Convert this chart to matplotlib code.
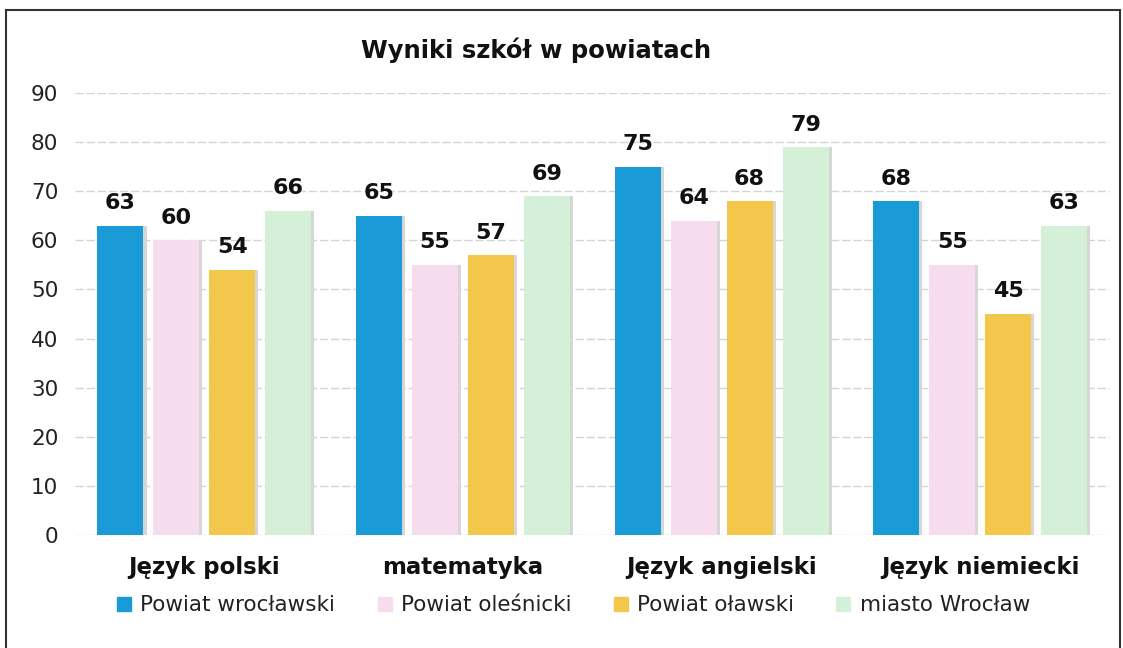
import matplotlib
matplotlib.use("Agg")
import matplotlib.pyplot as plt
import numpy as np
from matplotlib.patches import Rectangle
from matplotlib.lines import Line2D

categories = ["Język polski", "matematyka", "Język angielski", "Język niemiecki"]
series_names = ["Powiat wrocławski", "Powiat oleśnicki", "Powiat oławski", "miasto Wrocław"]
powiat_wroclawski = [63, 65, 75, 68]
powiat_olesnicki = [60, 55, 64, 55]
powiat_olawski = [54, 57, 68, 45]
miasto_wroclaw = [66, 69, 79, 63]
yticks = [0, 10, 20, 30, 40, 50, 60, 70, 80, 90]
title = "Wyniki szkół w powiatach"

series = [powiat_wroclawski, powiat_olesnicki, powiat_olawski, miasto_wroclaw]
colors = ["#1b9ad8", "#f6dcee", "#f2c74c", "#d5f0d8"]

plt.rcParams['font.family'] = ['DejaVu Sans']

fig = plt.figure(figsize=(11.23, 6.48), dpi=100)
ax = fig.add_axes([0.0668, 0.1744, 0.9212, 0.6821])

x = np.arange(len(categories))
step = 0.2164
width = 0.178
for i, (vals, c) in enumerate(zip(series, colors)):
    pos = x + (i - 1.5) * step
    # soft shadow
    ax.bar(pos + 0.006, vals, width=width + 0.012, color="#d6d6d6", zorder=2)
    ax.bar(pos, vals, width=width, color=c, zorder=3, label=series_names[i])
    for p, v in zip(pos, vals):
        ax.annotate(str(v), (p, v), xytext=(0, 9), textcoords="offset points",
                    ha="center", va="bottom", fontsize=16, fontweight="bold", color="#111111")

ax.set_xlim(-0.5, 3.5)
ax.set_ylim(0, 90)
ax.set_yticks(yticks)
ax.set_xticks(x)
ax.set_xticklabels(categories, fontsize=16.5, fontweight="bold", color="#111111")
ax.tick_params(axis="x", length=0, pad=15)
ax.tick_params(axis="y", length=0, pad=12, labelsize=15.5, labelcolor="#222222")
for s in ax.spines.values():
    s.set_visible(False)
ax.yaxis.grid(True, color="#d4d4d4", linestyle=(0, (6, 2)), linewidth=1, zorder=0)
ax.set_axisbelow(True)

fig.text(0.477, 0.922, title, ha="center", va="center", fontsize=17.5, fontweight="bold", color="#111111")

handles = [Line2D([], [], marker="s", linestyle="none", markersize=10, color=c) for c in colors]
fig.legend(handles, series_names, loc="center", bbox_to_anchor=(0.51, 0.066), ncol=4,
           frameon=False, fontsize=15.5, handlelength=0.8, handletextpad=0.35, columnspacing=1.9,
           labelcolor="#222222")

fig.patches.append(Rectangle((0.0055, -0.02), 0.992, 1.0046, transform=fig.transFigure,
                             fill=False, edgecolor="#333333", linewidth=1.5))

fig.savefig("out.png", dpi=100)
